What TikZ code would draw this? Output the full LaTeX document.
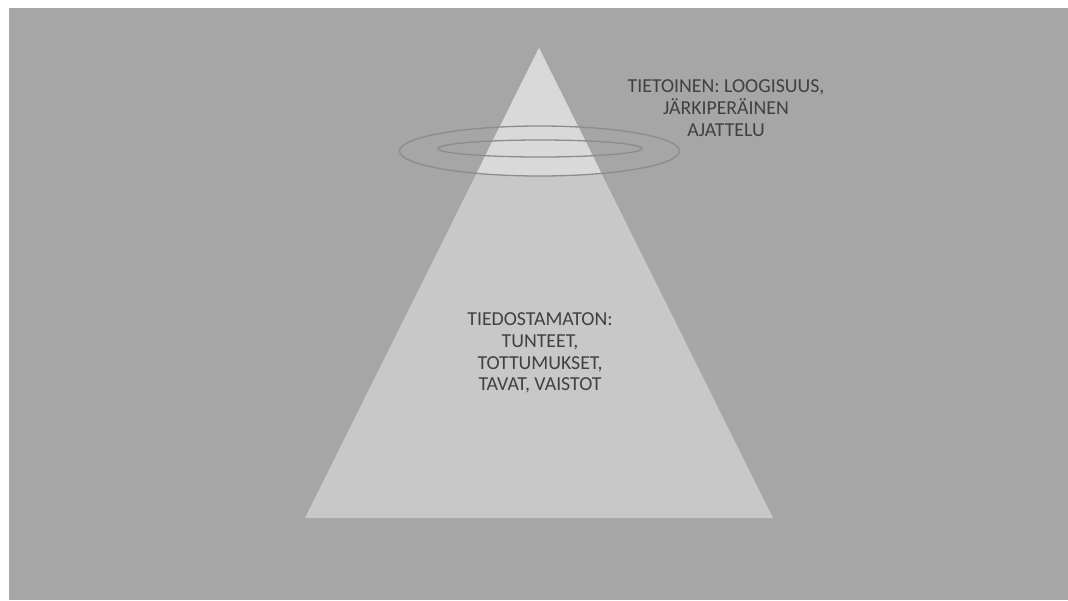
\documentclass[tikz,border=0pt]{standalone}
\usepackage{fontspec}
\setmainfont{Carlito}
\definecolor{bg}{HTML}{A6A6A6}
\definecolor{lowpart}{HTML}{C8C8C8}
\definecolor{toppart}{HTML}{D9D9D9}
\definecolor{ring}{HTML}{8C8C8C}
\definecolor{ink}{HTML}{404040}
\begin{document}
\begin{tikzpicture}[x=1pt,y=-1pt,
  label text/.style={text=ink,font=\fontsize{19.8pt}{21.7pt}\selectfont,align=center,inner sep=0pt},
  ring line/.style={draw=ring,line width=1.3pt}]
\useasboundingbox (0,0) rectangle (1068,600);
% page and backdrop
\fill[white] (0,0) rectangle (1068,600);
\fill[bg] (9,8) rectangle (1068,600);
% pyramid body
\coordinate (apex) at (539,48);
\coordinate (bl) at (305,518);
\coordinate (br) at (773,518);
\fill[lowpart] (apex) -- (bl) -- (br) -- cycle;
% lighter tip above the rings
\begin{scope}
  \clip (apex) -- (bl) -- (br) -- cycle;
  \fill[toppart] (300,40) rectangle (780,151);
  \fill[toppart] (539.5,151) ellipse [x radius=140, y radius=25];
\end{scope}
% rings around the tip
\draw[ring line] (539.5,151) ellipse [x radius=140, y radius=25];
\draw[ring line] (540,148.5) ellipse [x radius=102, y radius=8.5];
% labels
\node[label text] (conscious) at (726,108) {TIETOINEN: LOOGISUUS,\\JÄRKIPERÄINEN\\AJATTELU};
\node[label text] (unconscious) at (540,353) {TIEDOSTAMATON:\\TUNTEET,\\TOTTUMUKSET,\\TAVAT, VAISTOT};
\end{tikzpicture}
\end{document}
